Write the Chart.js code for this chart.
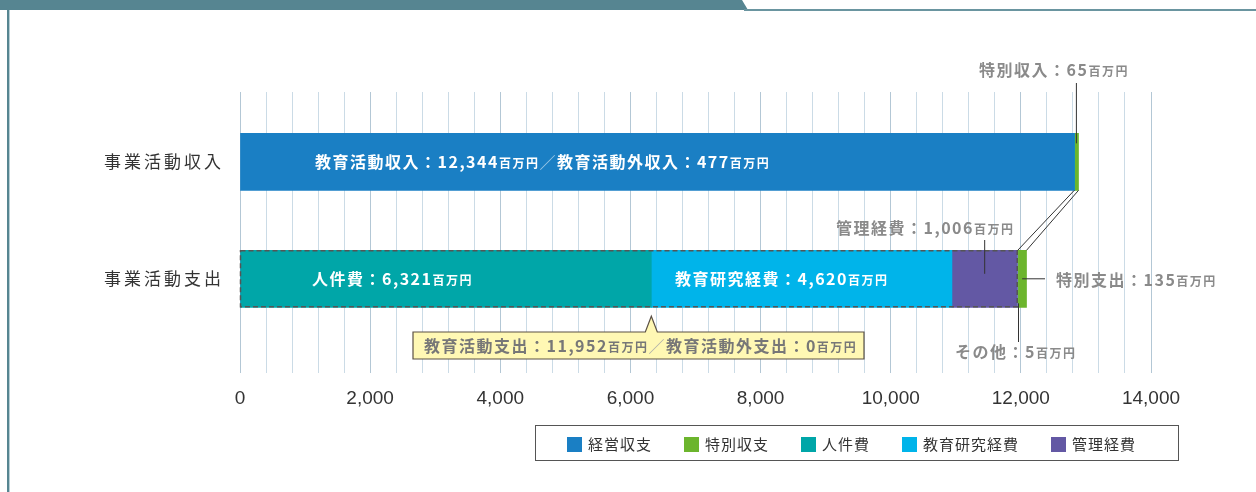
<!DOCTYPE html>
<html><head>
<meta charset="UTF-8">
<title>事業活動収支</title>
<style>
  body { margin: 0; background: #fff; }
  #wrap { position: relative; width: 1256px; height: 492px; overflow: hidden; }
  #chart { position: absolute; left: 0; top: 0; }
  .band { position: absolute; left: 0; top: 0; width: 748px; height: 10px; background: #568591;
          clip-path: polygon(0 0, 742px 0, 748px 100%, 0 100%); }
  .topline { position: absolute; left: 744px; top: 9px; width: 512px; height: 2px; background: #6a95a0; }
  .leftline { position: absolute; left: 7px; top: 10px; width: 2px; height: 482px; background: #568591;
              border-right: 1px solid #b8cfd5; }
  #legend { position: absolute; left: 535px; top: 425px; width: 644px; height: 36px; box-sizing: border-box;
            border: 1.5px solid #555; display: flex; align-items: center; padding-left: 31px; gap: 32px;
            font-family: "Noto Sans CJK JP", sans-serif; font-size: 15px; letter-spacing: 1px; color: #333; }
  #legend span.box { display: inline-block; width: 15px; height: 15px; margin-right: 6px; vertical-align: -2px; }
</style>
<script src="https://cdn.jsdelivr.net/npm/chart.js"></script>
</head>
<body>
<div id="wrap">
  <canvas id="chart" width="1256" height="492"></canvas>
  <div class="band"></div>
  <div class="topline"></div>
  <div class="leftline"></div>
  <div id="legend"></div>
</div>
<script>
  // categories and values (百万円)
  const categories = ['事業活動収入', '事業活動支出'];
  const operatingValues = [12821, 0];   // 経営収支 (教育活動収入 + 教育活動外収入)
  const personnelValues = [0, 6321];    // 人件費
  const researchValues = [0, 4620];     // 教育研究経費
  const adminValues = [0, 1006];        // 管理経費
  const otherValues = [0, 5];           // その他
  const specialValues = [65, 135];      // 特別収支 (特別収入 / 特別支出)
  const incomeBreakdown = [12344, 477]; // 教育活動収入 / 教育活動外収入
  const expenseBreakdown = [11952, 0];  // 教育活動支出 / 教育活動外支出
  const xTicks = [0, 2000, 4000, 6000, 8000, 10000, 12000, 14000];

  const colors = {
    operating: '#1a7fc4',
    special: '#6cb52d',
    personnel: '#00a6a8',
    research: '#00b4ea',
    admin: '#6358a4',
    other: '#9fd3ee'
  };

  const datasets = [
    { label: '経営収支', values: operatingValues, color: colors.operating, legend: 0 },
    { label: '人件費', values: personnelValues, color: colors.personnel, legend: 2 },
    { label: '教育研究経費', values: researchValues, color: colors.research, legend: 3 },
    { label: '管理経費', values: adminValues, color: colors.admin, legend: 4 },
    { label: 'その他', values: otherValues, color: colors.other, legend: -1 },
    { label: '特別収支', values: specialValues, color: colors.special, legend: 1 }
  ];

  const fmt = v => v.toLocaleString('en-US');
  const CJK = '"Noto Sans CJK JP", "Noto Sans", sans-serif';

  // draw a line of text made of runs [text, size, weight, color?], vertically centred on cy
  function drawRuns(ctx, x, cy, runs, color) {
    ctx.save();
    ctx.textBaseline = 'alphabetic';
    ctx.textAlign = 'left';
    ctx.letterSpacing = '1.5px';
    let cx = x;
    runs.forEach(r => {
      ctx.font = (r[2] || 'bold') + ' ' + r[1] + 'px ' + CJK;
      ctx.fillStyle = r[3] || color;
      ctx.fillText(r[0], cx, cy + 6);
      cx += ctx.measureText(r[0]).width;
    });
    ctx.restore();
    return cx;
  }

  function line(ctx, x1, y1, x2, y2) {
    ctx.beginPath();
    ctx.moveTo(x1, y1);
    ctx.lineTo(x2, y2);
    ctx.stroke();
  }

  const annotations = {
    id: 'annotations',
    afterDatasetsDraw(chart) {
      const ctx = chart.ctx;
      const xs = chart.scales.x, ys = chart.scales.y;
      const px = v => xs.getPixelForValue(v);
      const half = 28.5;
      const yIn = ys.getPixelForValue(0), yOut = ys.getPixelForValue(1);
      const inTop = yIn - half, inBot = yIn + half;
      const outTop = yOut - half, outBot = yOut + half;

      const incomeTotal = operatingValues[0];
      const eduOut = personnelValues[1] + researchValues[1] + adminValues[1] + otherValues[1];
      const beforeAdmin = personnelValues[1] + researchValues[1];

      // y category labels
      ctx.save();
      ctx.font = '17px ' + CJK;
      ctx.letterSpacing = '3px';
      ctx.fillStyle = '#333';
      ctx.textBaseline = 'middle';
      categories.forEach((c, i) => {
        const w = ctx.measureText(c).width - 3;
        ctx.fillText(c, 221 - w, ys.getPixelForValue(i));
      });
      ctx.restore();

      // dashed frame round 教育活動支出
      ctx.save();
      ctx.strokeStyle = '#555';
      ctx.lineWidth = 1.5;
      ctx.setLineDash([5, 3]);
      ctx.strokeRect(px(0) + 0.5, outTop + 0.5, px(eduOut) - px(0) - 1, outBot - outTop - 1);
      ctx.restore();

      // leader lines
      ctx.save();
      ctx.strokeStyle = '#333';
      ctx.lineWidth = 1;
      const spX = px(incomeTotal + specialValues[0] / 2);
      line(ctx, spX, 83, spX, inTop + 10);
      const adX = px(beforeAdmin + adminValues[1] / 2);
      line(ctx, adX, 240, adX, yOut - 5);
      line(ctx, px(eduOut + specialValues[1] / 2), yOut, 1045, yOut);
      const otX = Math.round(px(eduOut)) + 0.5;
      line(ctx, otX, outBot - 4, otX, 342);
      // connecting lines between the 特別収支 segments
      line(ctx, px(incomeTotal), inBot, px(eduOut), outTop);
      line(ctx, px(incomeTotal + specialValues[0]), inBot, px(eduOut + specialValues[1]), outTop);
      ctx.restore();

      const big = 16, small = 12;
      const sep = ['／', 16, 'normal', 'rgba(255,255,255,0.6)'];

      drawRuns(ctx, 315, yIn, [
        ['教育活動収入：' + fmt(incomeBreakdown[0]), big], ['百万円', small], sep,
        ['教育活動外収入：' + fmt(incomeBreakdown[1]), big], ['百万円', small]
      ], '#fff');
      drawRuns(ctx, 312, yOut, [['人件費：' + fmt(personnelValues[1]), big], ['百万円', small]], '#fff');
      drawRuns(ctx, 675, yOut, [['教育研究経費：' + fmt(researchValues[1]), big], ['百万円', small]], '#fff');

      const gray = '#8a8a8a';
      drawRuns(ctx, 979, 70, [['特別収入：' + fmt(specialValues[0]), big], ['百万円', small]], gray);
      drawRuns(ctx, 836, 228, [['管理経費：' + fmt(adminValues[1]), big], ['百万円', small]], gray);
      drawRuns(ctx, 1056, yOut + 1, [['特別支出：' + fmt(specialValues[1]), big], ['百万円', small]], gray);
      drawRuns(ctx, 955, 352, [['その他：' + fmt(otherValues[1]), big], ['百万円', small]], gray);

      // callout box
      const bx = 413, by = 332, bw = 451, bh = 27;
      const tipX = px(personnelValues[1]);
      ctx.save();
      ctx.fillStyle = '#fff8b4';
      ctx.strokeStyle = '#5b5045';
      ctx.lineWidth = 1.2;
      ctx.beginPath();
      ctx.moveTo(bx, by);
      ctx.lineTo(tipX - 6, by);
      ctx.lineTo(tipX, outBot + 9);
      ctx.lineTo(tipX + 6, by);
      ctx.lineTo(bx + bw, by);
      ctx.lineTo(bx + bw, by + bh);
      ctx.lineTo(bx, by + bh);
      ctx.closePath();
      ctx.fill();
      ctx.stroke();
      ctx.restore();
      drawRuns(ctx, 424, by + bh / 2, [
        ['教育活動支出：' + fmt(expenseBreakdown[0]), big], ['百万円', small],
        ['／', 16, 'normal', '#aaa'],
        ['教育活動外支出：' + fmt(expenseBreakdown[1]), big], ['百万円', small]
      ], '#777');
    }
  };

  new Chart(document.getElementById('chart'), {
    type: 'bar',
    data: {
      datasets: datasets.map(d => ({
        label: d.label,
        data: d.values.map((v, i) => ({ x: v, y: i })),
        backgroundColor: d.color,
        borderWidth: 0,
        barThickness: 57
      }))
    },
    options: {
      indexAxis: 'y',
      responsive: false,
      devicePixelRatio: 1,
      animation: false,
      layout: { padding: { left: 240, right: 105, top: 92, bottom: 68 } },
      plugins: { legend: { display: false }, tooltip: { enabled: false } },
      scales: {
        x: {
          type: 'linear',
          stacked: true,
          min: xTicks[0],
          max: xTicks[xTicks.length - 1],
          border: { display: false },
          grid: {
            drawTicks: false,
            lineWidth: 1,
            color: c => (c.tick && c.tick.value % 2000 === 0) ? '#b3c7d5' : '#cbdbe6'
          },
          ticks: {
            stepSize: 400,
            autoSkip: false,
            maxRotation: 0,
            padding: 14,
            color: '#333',
            font: { family: '"Liberation Sans Narrow", "Liberation Sans", sans-serif', size: 19 },
            callback: v => xTicks.includes(v) ? fmt(v) : ''
          }
        },
        y: {
          type: 'linear',
          stacked: true,
          reverse: true,
          offset: false,
          min: -0.597,
          max: 1.807,
          display: false
        }
      }
    },
    plugins: [annotations]
  });

  // legend built from the datasets, in the original order
  const legendEl = document.getElementById('legend');
  datasets.filter(d => d.legend >= 0).sort((a, b) => a.legend - b.legend).forEach(d => {
    const item = document.createElement('div');
    item.innerHTML = '<span class="box" style="background:' + d.color + '"></span>' + d.label;
    legendEl.appendChild(item);
  });
</script>
</body></html>
